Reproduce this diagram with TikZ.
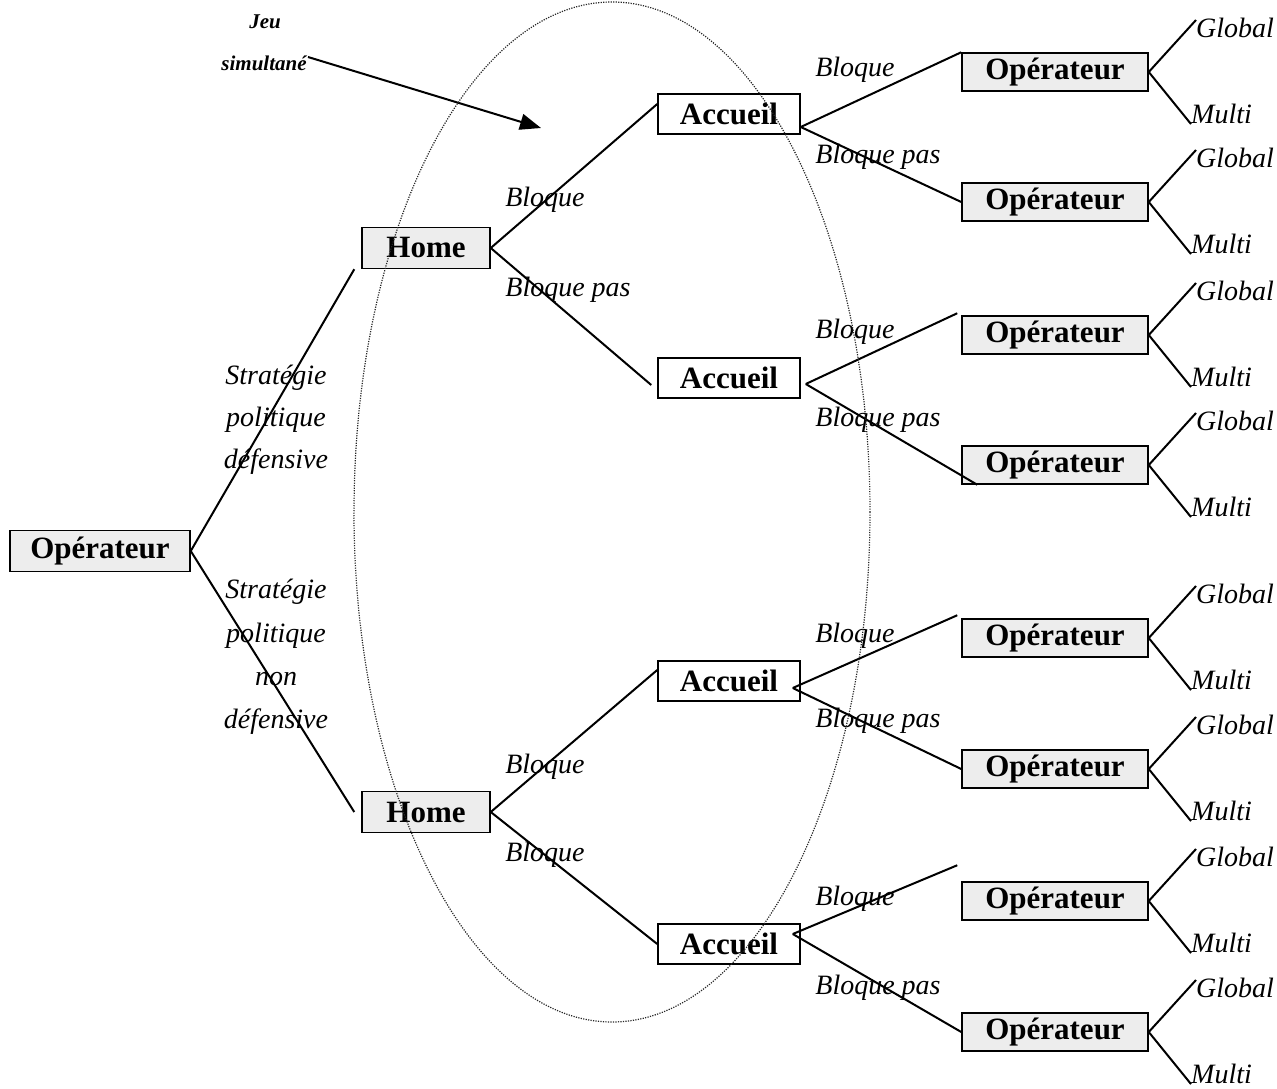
\documentclass[tikz,border=0pt]{standalone}
\usepackage{fontspec}
\setmainfont{Liberation Serif}
\usetikzlibrary{arrows.meta}
\begin{document}
\begin{tikzpicture}[x=1pt,y=-1pt,
  box/.style={draw=black,line width=1.5pt,inner sep=0pt,font=\fontsize{31}{34}\selectfont\bfseries},
  opbox/.style={box,fill=gray!14,minimum width=186pt,minimum height=38pt},
  homebox/.style={box,fill=gray!14,minimum width=128pt,minimum height=41pt},
  accbox/.style={box,fill=white,minimum width=142pt,minimum height=40pt},
  lbl/.style={font=\fontsize{28}{30}\selectfont\itshape,inner sep=0pt},
  edge/.style={line width=2pt,black},
  gm/.style={font=\fontsize{28}{30}\selectfont\itshape,inner sep=0pt,anchor=west}]
\useasboundingbox (0,0) rectangle (1277,1089);

% nodes
\node[opbox,minimum width=180pt,minimum height=41pt] (op) at (100,551) {Opérateur};
\node[homebox] (h1) at (426,248) {Home};
\node[homebox] (h2) at (426,812) {Home};
\node[accbox] (a1) at (729,114) {Accueil};
\node[accbox] (a2) at (729,378) {Accueil};
\node[accbox] (a3) at (729,681) {Accueil};
\node[accbox] (a4) at (729,944) {Accueil};
\foreach \i/\y in {1/72,2/202,3/335,4/465,5/638,6/769,7/901,8/1032}{
  \node[opbox] (o\i) at (1055,\y) {Opérateur};
  \node[gm] (g\i) at (1196,\y-44) {Global};
  \node[gm] (m\i) at (1191,\y+42) {Multi};
  \draw[edge] (o\i.east) -- ([yshift=8pt]g\i.west);
  \draw[edge] (o\i.east) -- (m\i.south west);
}

% strategy edges
\draw[edge] (op.east) -- ([xshift=-7pt]h1.south west);
\draw[edge] (op.east) -- ([xshift=-7pt]h2.west);
% home -> accueil
\draw[edge] (h1.east) -- ([yshift=10pt]a1.west);
\draw[edge] (h1.east) -- ([xshift=-6pt,yshift=-7pt]a2.west);
\draw[edge] (h2.east) -- ([yshift=11pt]a3.west);
\draw[edge] (h2.east) -- (a4.west);
% accueil -> operateur
\draw[edge] ([yshift=-13pt]a1.east) -- (o1.north west);
\draw[edge] ([yshift=-13pt]a1.east) -- (o2.west);
\draw[edge] ([xshift=5pt,yshift=-6pt]a2.east) -- ([xshift=-4pt,yshift=2pt]o3.north west);
\draw[edge] ([xshift=5pt,yshift=-6pt]a2.east) -- ([xshift=16pt]o4.south west);
\draw[edge] ([xshift=-8pt,yshift=-7pt]a3.east) -- ([xshift=-4pt,yshift=3pt]o5.north west);
\draw[edge] ([xshift=-8pt,yshift=-7pt]a3.east) -- (o6.west);
\draw[edge] ([xshift=-8pt,yshift=10pt]a4.east) -- ([xshift=-4pt,yshift=16pt]o7.north west);
\draw[edge] ([xshift=-8pt,yshift=10pt]a4.east) -- (o8.west);

% labels
\node[lbl] (l1) at (545,200) {Bloque};
\node[lbl] (l2) at (568,290) {Bloque pas};
\node[lbl] (l3) at (545,767) {Bloque};
\node[lbl] (l4) at (545,855) {Bloque};
\foreach \j/\y in {1/70,2/332,3/636,4/899}{
  \node[lbl] (b\j) at (855,\y) {Bloque};
}
\foreach \j/\y in {1/157,2/420,3/721,4/988}{
  \node[lbl] (p\j) at (878,\y) {Bloque pas};
}
\node[lbl,align=center,font=\fontsize{28}{42}\selectfont\itshape] (s1) at (276,420) {Stratégie\\politique\\défensive};
\node[lbl,align=center,font=\fontsize{28}{43.3}\selectfont\itshape] (s2) at (276,657) {Stratégie\\politique\\non\\défensive};

% jeu simultane
\node[lbl,font=\fontsize{21}{22}\selectfont\bfseries\itshape] (j1) at (265,22) {Jeu};
\node[lbl,font=\fontsize{21}{22}\selectfont\bfseries\itshape] (j2) at (264,63) {simultané};
\coordinate (jt) at (308,57);
\coordinate (jh) at (541,128);
\draw[line width=2pt,-{Triangle[length=21pt,width=16pt]}] (jt) -- (jh);

% ellipse
\draw[line width=1.2pt,dash pattern=on 1.2pt off 1.3pt,black!85] (612,512) ellipse [x radius=258, y radius=510];
\end{tikzpicture}
\end{document}
